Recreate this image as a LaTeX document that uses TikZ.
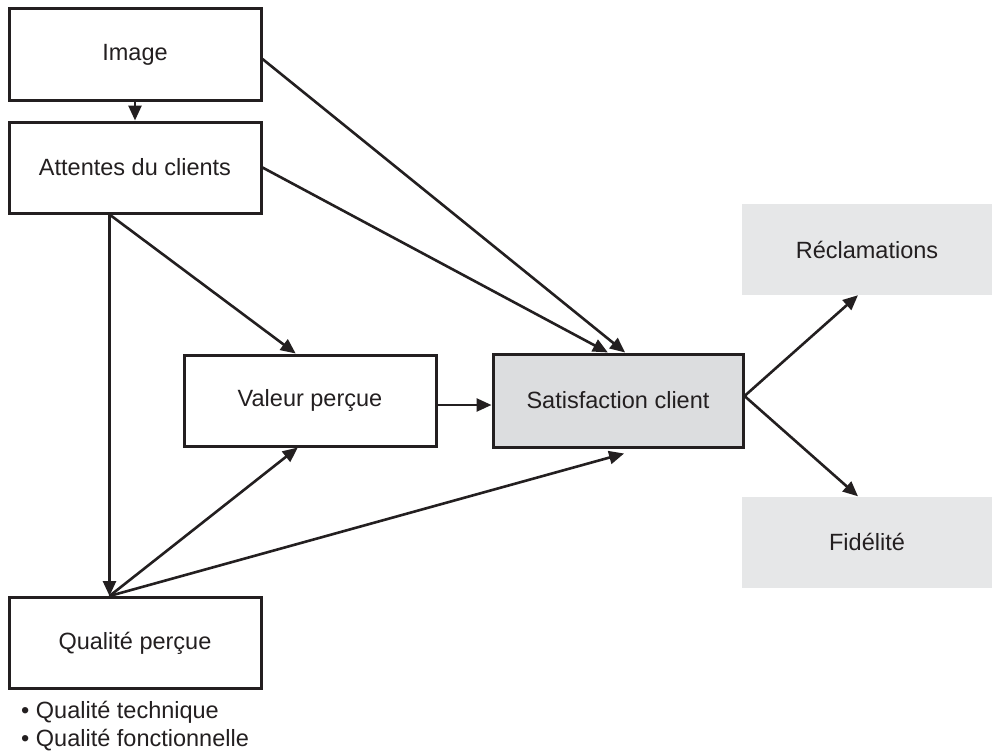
\documentclass[tikz,border=0pt]{standalone}
\usepackage{fontspec}
\setmainfont{Liberation Sans}
\usetikzlibrary{arrows.meta,calc}
\definecolor{ink}{HTML}{231F20}
\definecolor{satgray}{HTML}{DCDDDF}
\definecolor{outgray}{HTML}{E6E7E8}
\begin{document}
\begin{tikzpicture}[x=1pt,y=-1pt,
  box/.style={draw=ink,line width=3pt,rectangle,inner sep=0pt,text=ink,
    font=\fontsize{23.5}{28}\selectfont},
  wbox/.style={box,fill=white,minimum width=252pt,minimum height=91pt},
  sbox/.style={box,fill=satgray,minimum width=250pt,minimum height=93pt},
  gbox/.style={rectangle,inner sep=0pt,fill=outgray,text=ink,minimum width=250pt,minimum height=91pt,
    font=\fontsize{23.5}{28}\selectfont},
  conn/.style={draw=ink,line width=2.6pt,-{Triangle[length=15pt,width=13pt]}}]
\useasboundingbox (0,0) rectangle (992,752);
\fill[white] (0,0) rectangle (992,752);

\node[wbox] (img) at (135,54.5) {Image};
\node[wbox] (att) at (135,167.5) {Attentes du clients};
\node[wbox] (val) at (310,400.5) {Valeur perçue};
\node[sbox] (sat) at (618,400.5) {Satisfaction client};
\node[gbox] (rec) at (867,249.5) {Réclamations};
\node[gbox] (fid) at (867,542) {Fidélité};
\node[wbox] (qual) at (135,643) {Qualité perçue};
\node[anchor=base west,align=left,text=ink,inner sep=0pt,
  font=\fontsize{23.5}{28}\selectfont] (qlist) at (21,746)
  {\textbullet\ Qualité technique\\ \textbullet\ Qualité fonctionnelle};

% connectors
\draw[conn] (img.south) -- (att.north);
\draw[conn] ([yshift=-4.5pt]img.east) -- ($(sat.north west)!0.528!(sat.north east)$);
\draw[conn] (att.east) -- ($(sat.north west)!0.46!(sat.north east)$);
\coordinate (attb) at ($(att.south west)!0.40!(att.south east)$);
\coordinate (qualt) at ($(qual.north west)!0.40!(qual.north east)$);
\draw[conn] (attb) -- ($(val.north west)!0.444!(val.north east)$);
\draw[conn] (attb) -- (qualt);
\draw[conn] (qualt) -- ($(val.south west)!0.452!(val.south east)$);
\draw[conn] (qualt) -- ($(sat.south west)!0.524!(sat.south east)+(0,5)$);
\draw[conn] ([yshift=-4.5pt]val.east) -- ([yshift=-4.5pt]sat.west);
\draw[conn] ([yshift=4.5pt]sat.east) -- ($(rec.south west)!0.464!(rec.south east)$);
\draw[conn] ([yshift=4.5pt]sat.east) -- ($(fid.north west)!0.464!(fid.north east)$);
\end{tikzpicture}
\end{document}
